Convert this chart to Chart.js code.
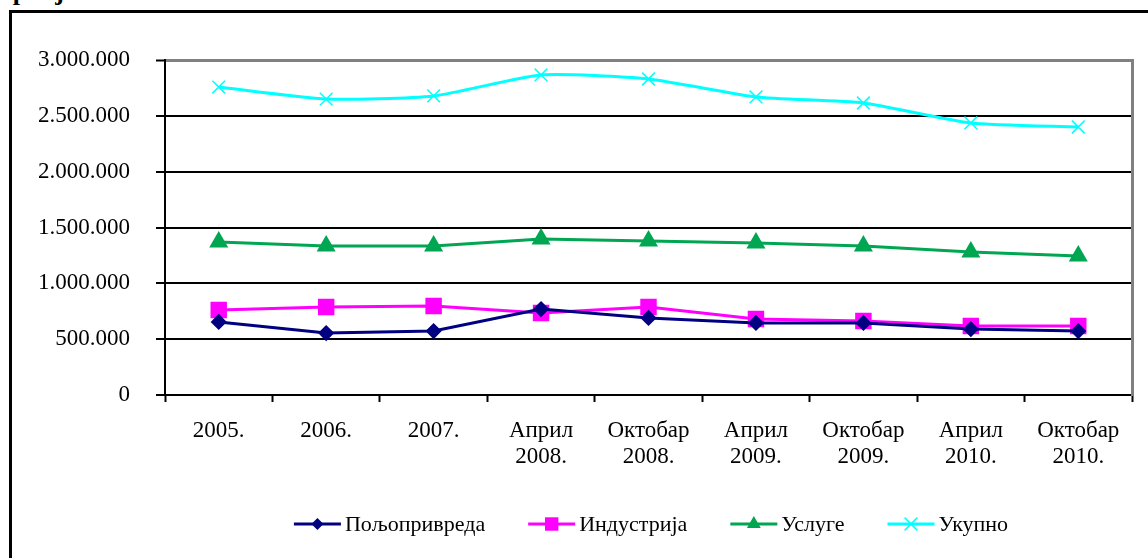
<!DOCTYPE html>
<html>
<head>
<meta charset="utf-8">
<script src="https://cdn.jsdelivr.net/npm/chart.js@4/dist/chart.umd.min.js"></script>
<style>
    html, body { margin: 0; padding: 0; background: #fff; overflow: hidden; }
    #frame { position: absolute; left: 9px; top: 10px; width: 1200px; height: 600px; border: 3px solid #000; }
    #title { position: absolute; left: -6px; top: -21px; font: bold 26px 'Liberation Serif', serif; line-height: 26px; color: #000; }
    #wrap { position: absolute; left: 0; top: 0; width: 1148px; height: 558px; }
</style>
</head>
<body>
<div id="title">Србија</div>
<div id="frame"></div>
<div id="wrap"><canvas id="employmentChart" width="1148" height="558"></canvas></div>
<script>
// Запосленост по секторима
var categories = ['2005.', '2006.', '2007.', ['Април', '2008.'], ['Октобар', '2008.'],
    ['Април', '2009.'], ['Октобар', '2009.'], ['Април', '2010.'], ['Октобар', '2010.']];
var seriesNames = ['Пољопривреда', 'Индустрија', 'Услуге', 'Укупно'];
var agriculture = [654000, 555000, 573000, 770000, 690000, 645000, 645000, 591000, 573000];
var industry = [761000, 788000, 797000, 734000, 788000, 681000, 663000, 618000, 618000];
var services = [1370000, 1334000, 1334000, 1397000, 1379000, 1361000, 1334000, 1281000, 1245000];
var total = [2758000, 2650000, 2678000, 2866000, 2830000, 2669000, 2615000, 2436000, 2400000];
var yTicks = [0, 500000, 1000000, 1500000, 2000000, 2500000, 3000000];

var serif = "'Liberation Serif', 'Times New Roman', serif";

function formatThousands(v) {
    return String(v).replace(/\B(?=(\d{3})+(?!\d))/g, '.');
}

// draw a marker like the ones in the plot (used by legend)
function drawMarker(ctx, style, x, y, r, color) {
    ctx.save();
    ctx.fillStyle = color;
    ctx.strokeStyle = color;
    ctx.beginPath();
    if (style === 'rectRot') {
        ctx.moveTo(x, y - r); ctx.lineTo(x + r, y); ctx.lineTo(x, y + r); ctx.lineTo(x - r, y);
        ctx.closePath(); ctx.fill();
    } else if (style === 'rect') {
        var s = r * Math.SQRT1_2;
        ctx.rect(x - s, y - s, 2 * s, 2 * s); ctx.fill();
    } else if (style === 'triangle') {
        ctx.moveTo(x, y - r); ctx.lineTo(x + r * 0.87, y + r * 0.5); ctx.lineTo(x - r * 0.87, y + r * 0.5);
        ctx.closePath(); ctx.fill();
    } else if (style === 'crossRot') {
        var d = r * Math.SQRT1_2;
        ctx.lineWidth = 1.5;
        ctx.moveTo(x - d, y - d); ctx.lineTo(x + d, y + d);
        ctx.moveTo(x + d, y - d); ctx.lineTo(x - d, y + d);
        ctx.stroke();
    }
    ctx.restore();
}

var lineLegend = {
    id: 'lineLegend',
    afterDraw: function(chart) {
        var ctx = chart.ctx;
        var seg = 47, gap = 4, spacing = 43, y = 524;
        ctx.save();
        ctx.font = '22px ' + serif;
        var widths = chart.data.datasets.map(function(ds) {
            return seg + gap + ctx.measureText(ds.label).width;
        });
        var totalW = widths.reduce(function(a, b) { return a + b; }, 0) + spacing * (widths.length - 1);
        var x = 651 - totalW / 2;
        chart.data.datasets.forEach(function(ds, i) {
            ctx.strokeStyle = ds.borderColor;
            ctx.lineWidth = 3;
            ctx.beginPath();
            ctx.moveTo(x, y);
            ctx.lineTo(x + seg, y);
            ctx.stroke();
            drawMarker(ctx, ds.pointStyle, x + seg / 2, y, ds.pointRadius, ds.borderColor);
            ctx.fillStyle = '#000';
            ctx.textBaseline = 'middle';
            ctx.textAlign = 'left';
            ctx.fillText(ds.label, x + seg + gap, y + 1);
            x += widths[i] + spacing;
        });
        ctx.restore();
    }
};

new Chart(document.getElementById('employmentChart'), {
    type: 'line',
    data: {
        labels: categories,
        datasets: [{
            label: seriesNames[0],
            data: agriculture,
            borderColor: '#000080',
            backgroundColor: '#000080',
            pointStyle: 'rectRot',
            pointRadius: 6,
            borderWidth: 3
        }, {
            label: seriesNames[1],
            data: industry,
            borderColor: '#ff00ff',
            backgroundColor: '#ff00ff',
            pointStyle: 'rect',
            pointRadius: 9.5,
            borderWidth: 3
        }, {
            label: seriesNames[2],
            data: services,
            borderColor: '#00a651',
            backgroundColor: '#00a651',
            pointStyle: 'triangle',
            pointRadius: 8,
            borderWidth: 3
        }, {
            label: seriesNames[3],
            data: total,
            borderColor: '#00ffff',
            backgroundColor: '#00ffff',
            pointStyle: 'crossRot',
            pointRadius: 9,
            pointBorderWidth: 1.5,
            borderWidth: 3,
            tension: 0.2
        }]
    },
    options: {
        responsive: false,
        animation: false,
        devicePixelRatio: 1,
        layout: { padding: { top: 60, left: 0, right: 0, bottom: 0 } },
        plugins: {
            legend: { display: false },
            tooltip: { enabled: false }
        },
        scales: {
            x: {
                offset: true,
                grid: {
                    offset: true,
                    drawOnChartArea: false,
                    tickLength: 7,
                    tickColor: '#000',
                    tickWidth: 2
                },
                border: { color: '#000', width: 2 },
                ticks: {
                    color: '#000',
                    font: { family: serif, size: 23, lineHeight: 1.17 },
                    padding: 15,
                    autoSkip: false,
                    maxRotation: 0
                },
                afterFit: function(scale) { scale.height = 163; }
            },
            y: {
                min: 0,
                max: 3000000,
                afterBuildTicks: function(scale) {
                    scale.ticks = yTicks.map(function(v) { return { value: v }; });
                },
                grid: {
                    color: function(c) { return c.tick && c.tick.value === 3000000 ? '#808080' : '#000'; },
                    lineWidth: function(c) { return c.tick && c.tick.value === 3000000 ? 3 : 2; },
                    tickLength: 9,
                    tickColor: '#000',
                    tickWidth: 2
                },
                border: { color: '#000', width: 2 },
                ticks: {
                    color: '#000',
                    font: { family: serif, size: 23 },
                    padding: 26,
                    callback: function(v) { return formatThousands(v); }
                },
                afterFit: function(scale) { scale.width = 165; }
            },
            yRight: {
                position: 'right',
                min: 0,
                max: 3000000,
                grid: { display: false, drawTicks: false },
                border: { color: '#808080', width: 3 },
                ticks: { display: false },
                afterFit: function(scale) { scale.width = 16; }
            }
        }
    },
    plugins: [lineLegend]
});
</script>
</body>
</html>
